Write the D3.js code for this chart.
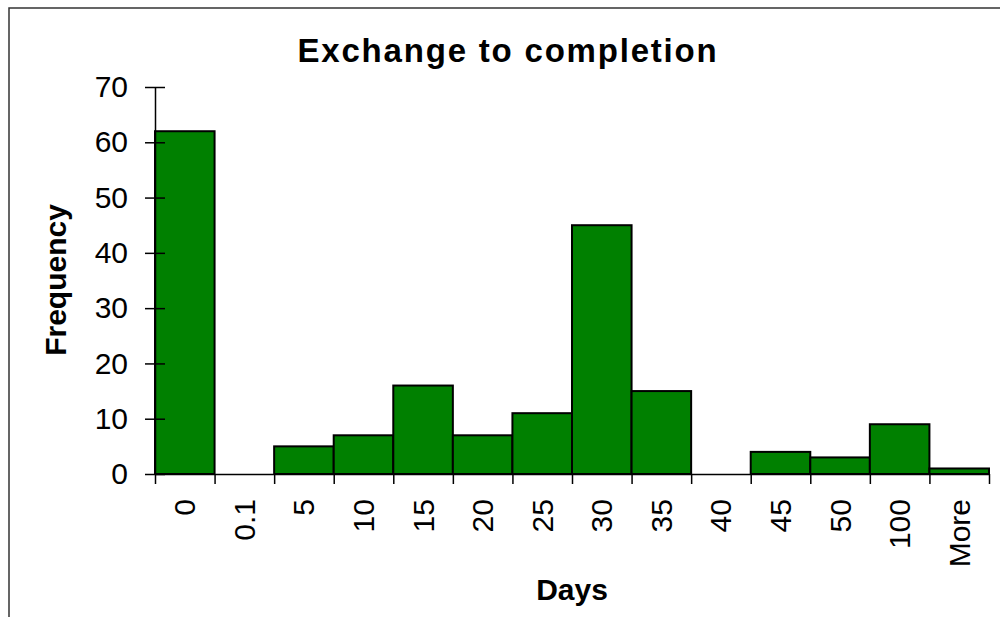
<!DOCTYPE html>
<html>
<head>
<meta charset="utf-8">
<script src="https://cdn.jsdelivr.net/npm/d3@7"></script>
<style>
  body { margin: 0; background: #fff; }
  svg { display: block; font-family: "Liberation Sans", Arial, sans-serif; }
  .axis path, .axis line { stroke: #000; stroke-width: 1.5; }
  .bar { fill: #008000; stroke: #000; stroke-width: 2; }
</style>
</head>
<body>
<div id="vis"></div>
<script>
const CATEGORIES = ["0", "0.1", "5", "10", "15", "20", "25", "30", "35", "40", "45", "50", "100", "More"];
const FREQUENCY = [62, 0, 5, 7, 16, 7, 11, 45, 15, 0, 4, 3, 9, 1];
const Y_TICKS = [0, 10, 20, 30, 40, 50, 60, 70];

const FRAME_WIDTH = 1000;
const FRAME_HEIGHT = 617;
const MARGINS = { left: 155, right: 11, top: 87, bottom: 143 };
const VIS_WIDTH = FRAME_WIDTH - MARGINS.left - MARGINS.right;
const VIS_HEIGHT = FRAME_HEIGHT - MARGINS.top - MARGINS.bottom;

const FRAME = d3.select("#vis")
  .append("svg")
  .attr("width", FRAME_WIDTH)
  .attr("height", FRAME_HEIGHT);

// outer chart border (runs off the right and bottom edges)
FRAME.append("rect")
  .attr("x", 9)
  .attr("y", 8)
  .attr("width", 1100)
  .attr("height", 800)
  .attr("fill", "none")
  .attr("stroke", "#333")
  .attr("stroke-width", 1.5);

const X_SCALE = d3.scaleBand()
  .domain(CATEGORIES)
  .range([0, VIS_WIDTH])
  .padding(0);

const EDGE_SCALE = d3.scaleLinear()
  .domain([0, CATEGORIES.length])
  .range([0, VIS_WIDTH]);

const Y_SCALE = d3.scaleLinear()
  .domain([0, 70])
  .range([VIS_HEIGHT, 0]);

const plot = FRAME.append("g")
  .attr("transform", `translate(${MARGINS.left},${MARGINS.top})`);

plot.selectAll(".bar")
  .data(FREQUENCY.map((v, i) => ({ cat: CATEGORIES[i], value: v })).filter(d => d.value > 0))
  .enter()
  .append("rect")
  .attr("class", "bar")
  .attr("x", d => X_SCALE(d.cat))
  .attr("y", d => Y_SCALE(d.value))
  .attr("width", X_SCALE.bandwidth())
  .attr("height", d => VIS_HEIGHT - Y_SCALE(d.value));

// y axis with ticks crossing the line
const yAxis = plot.append("g")
  .attr("class", "axis")
  .call(d3.axisLeft(Y_SCALE).tickValues(Y_TICKS).tickSizeOuter(0).tickSizeInner(10));
yAxis.selectAll(".tick line").attr("x1", -10).attr("x2", 10);
yAxis.selectAll(".tick text")
  .attr("x", -27)
  .attr("font-size", 30)
  .attr("fill", "#000");

// x axis: ticks at bin edges
plot.append("g")
  .attr("class", "axis")
  .attr("transform", `translate(0,${VIS_HEIGHT})`)
  .call(d3.axisBottom(EDGE_SCALE)
    .tickValues(d3.range(CATEGORIES.length + 1))
    .tickFormat("")
    .tickSizeOuter(0)
    .tickSizeInner(10));

// x labels at bin centres, rotated
const xLabels = plot.append("g")
  .attr("class", "axis")
  .attr("transform", `translate(0,${VIS_HEIGHT})`)
  .call(d3.axisBottom(X_SCALE).tickSize(0));
xLabels.select(".domain").remove();
xLabels.selectAll(".tick text")
  .attr("transform", "rotate(-90)")
  .attr("x", -25)
  .attr("y", 0)
  .attr("dy", "0.35em")
  .attr("text-anchor", "end")
  .attr("font-size", 30)
  .attr("fill", "#000");

FRAME.append("text")
  .attr("x", 508)
  .attr("y", 62)
  .attr("text-anchor", "middle")
  .attr("font-size", 33)
  .attr("font-weight", "bold")
  .attr("letter-spacing", "1.8px")
  .text("Exchange to completion");

FRAME.append("text")
  .attr("x", MARGINS.left + VIS_WIDTH / 2)
  .attr("y", 600)
  .attr("text-anchor", "middle")
  .attr("font-size", 30)
  .attr("font-weight", "bold")
  .text("Days");

FRAME.append("text")
  .attr("transform", "translate(66,280) rotate(-90)")
  .attr("text-anchor", "middle")
  .attr("font-size", 30)
  .attr("font-weight", "bold")
  .text("Frequency");
</script>
</body>
</html>
